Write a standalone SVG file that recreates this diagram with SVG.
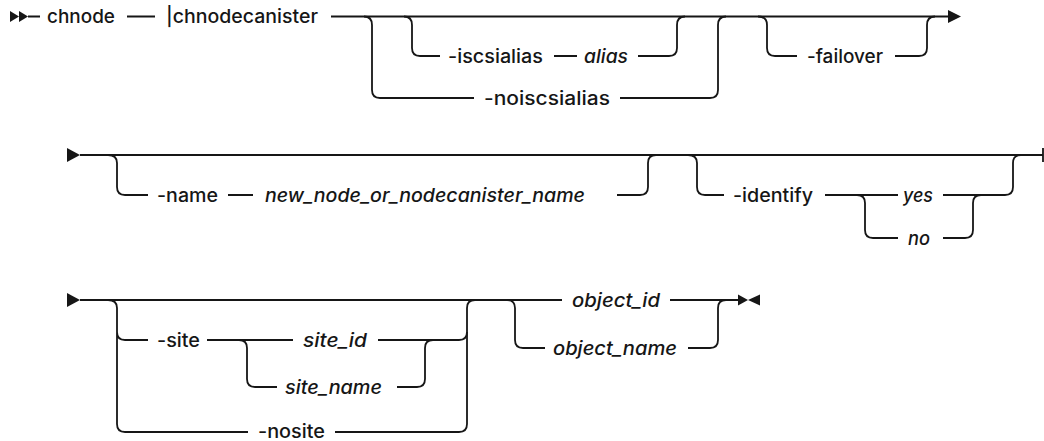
<svg xmlns="http://www.w3.org/2000/svg" width="1044" height="441" viewBox="0 0 1044 441">
<style>
.t{font-family:Inter,"Noto Sans","DejaVu Sans",sans-serif;font-size:18.5px;font-weight:500;fill:#161616}
.i{font-style:italic}
.c{fill:none;stroke:#161616;stroke-width:1.8}
.a{fill:#161616}
</style>
<rect width="1044" height="441" fill="#ffffff"/>
<g id="connectors">
<polygon class="a" points="10,11 19,16.5 10,22"/>
<polygon class="a" points="19,11 28,16.5 19,22"/>
<path class="c" d="M28 16.5 H40 M127 16.5 H155 M331 16.5 H948"/>
<polygon class="a" points="948,10 961,16.5 948,23"/>
<path class="c" d="M364 16.5 Q372 16.5 372 25 V90 Q372 98 380 98 H474 M620 98 H710 Q718 98 718 90 V25 Q718 16.5 726 16.5"/>
<path class="c" d="M404 16.5 Q412 16.5 412 25 V48 Q412 56 420 56 H440 M554 56 H577 M638 56 H669 Q677 56 677 48 V25 Q677 16.5 685 16.5"/>
<path class="c" d="M758 16.5 Q767 16.5 767 25 V48 Q767 56 775 56 H797 M895 56 H919 Q927 56 927 48 V25 Q927 16.5 935 16.5"/>
<polygon class="a" points="67,148 80,155 67,162"/>
<path class="c" d="M80 155 H1043 M1043 148 V162"/>
<path class="c" d="M108 155 Q117 155 117 163 V187 Q117 195 125 195 H148 M228 195 H253 M617 195 H640 Q648 195 648 187 V163 Q648 155 656 155"/>
<path class="c" d="M688 155 Q697 155 697 163 V187 Q697 195 705 195 H724 M825 195 H898 M943 195 H1005 Q1013 195 1013 187 V163 Q1013 155 1021 155"/>
<path class="c" d="M857 195 Q865 195 865 203 V230 Q865 238 873 238 H898 M943 238 H965 Q973 238 973 230 V203 Q973 195 981 195"/>
<polygon class="a" points="67,293 80,300 67,307"/>
<path class="c" d="M80 300 H562 M670 300 H738"/>
<polygon class="a" points="738,294.5 748,300 738,305.5"/>
<polygon class="a" points="760,294.5 748,300 760,305.5"/>
<path class="c" d="M108 300 Q117 300 117 308 V424 Q117 432 125 432 H248 M117 332 Q117 340 125 340 H148 M335 432 H459 Q467 432 467 424 V308 Q467 300 475 300"/>
<path class="c" d="M207 340 H293 M378 340 H459 Q467 340 467 332"/>
<path class="c" d="M239 340 Q247 340 247 348 V379 Q247 387 255 387 H277 M397 387 H417 Q425 387 425 379 V348 Q425 340 433 340"/>
<path class="c" d="M507 300 Q515 300 515 308 V340 Q515 348 523 348 H545 M688 348 H710 Q718 348 718 340 V308 Q718 300 726 300"/>
</g>
<g id="n-chnode"><text class="t" x="47" y="23" textLength="68" lengthAdjust="spacingAndGlyphs">chnode</text></g>
<g id="n-chnodecanister"><text class="t" x="166" y="23" textLength="152" lengthAdjust="spacingAndGlyphs">|chnodecanister</text></g>
<g id="n-iscsialias"><text class="t" x="448" y="63" textLength="95" lengthAdjust="spacingAndGlyphs">-iscsialias</text></g>
<g id="n-alias"><text class="t i" x="584" y="63" textLength="44" lengthAdjust="spacingAndGlyphs">alias</text></g>
<g id="n-noiscsialias"><text class="t" x="484" y="104.5" textLength="126" lengthAdjust="spacingAndGlyphs">-noiscsialias</text></g>
<g id="n-failover"><text class="t" x="807" y="63" textLength="76" lengthAdjust="spacingAndGlyphs">-failover</text></g>
<g id="n-name"><text class="t" x="157" y="202" textLength="61" lengthAdjust="spacingAndGlyphs">-name</text></g>
<g id="n-newname"><text class="t i" x="265" y="202" textLength="320" lengthAdjust="spacingAndGlyphs">new_node_or_nodecanister_name</text></g>
<g id="n-identify"><text class="t" x="733" y="202" textLength="80" lengthAdjust="spacingAndGlyphs">-identify</text></g>
<g id="n-yes"><text class="t i" x="903" y="202" textLength="30" lengthAdjust="spacingAndGlyphs">yes</text></g>
<g id="n-no"><text class="t i" x="908" y="245" textLength="22" lengthAdjust="spacingAndGlyphs">no</text></g>
<g id="n-site"><text class="t" x="157" y="347" textLength="43" lengthAdjust="spacingAndGlyphs">-site</text></g>
<g id="n-siteid"><text class="t i" x="303" y="347" textLength="64" lengthAdjust="spacingAndGlyphs">site_id</text></g>
<g id="n-sitename"><text class="t i" x="285" y="394" textLength="97" lengthAdjust="spacingAndGlyphs">site_name</text></g>
<g id="n-nosite"><text class="t" x="258" y="438" textLength="67" lengthAdjust="spacingAndGlyphs">-nosite</text></g>
<g id="n-objectid"><text class="t i" x="572" y="307" textLength="88" lengthAdjust="spacingAndGlyphs">object_id</text></g>
<g id="n-objectname"><text class="t i" x="553" y="355" textLength="124" lengthAdjust="spacingAndGlyphs">object_name</text></g>
</svg>
